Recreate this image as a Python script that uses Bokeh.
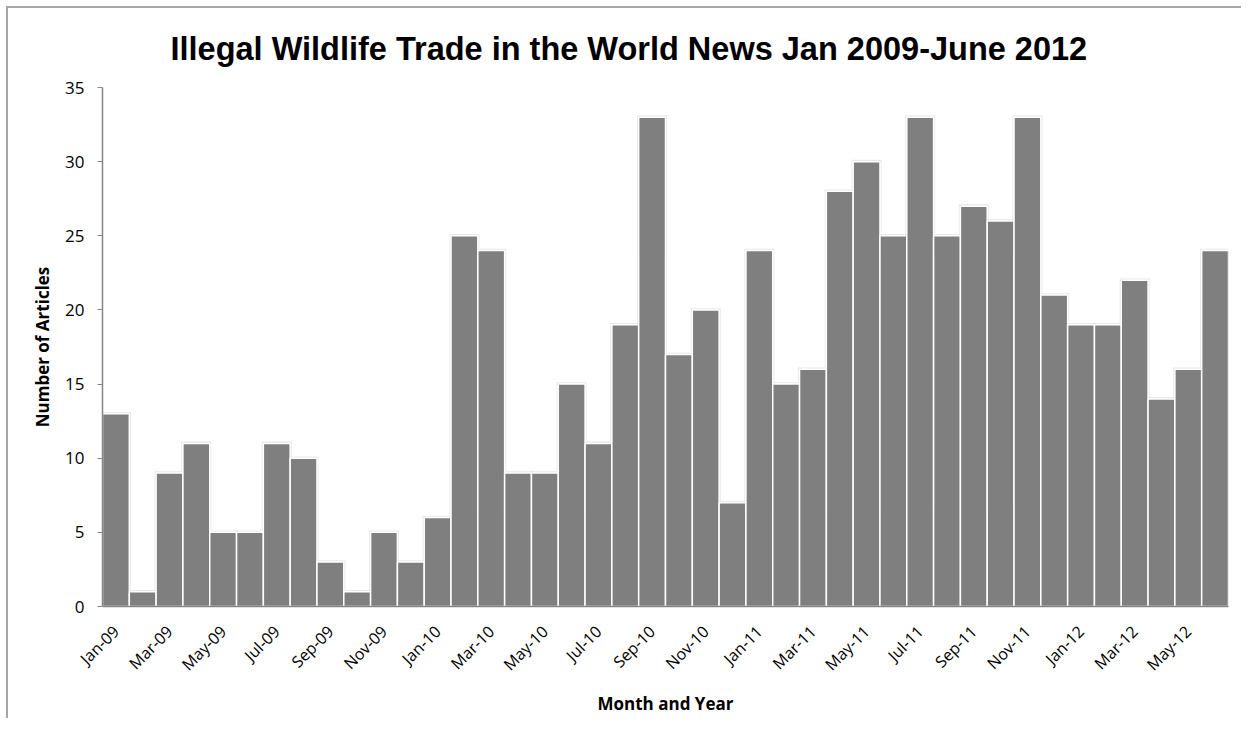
from math import pi
from bokeh.plotting import figure
from bokeh.models import ColumnDataSource, Range1d, FixedTicker, Title
from bokeh.embed import file_html
from bokeh.resources import INLINE

months = ["Jan-09", "Feb-09", "Mar-09", "Apr-09", "May-09", "Jun-09", "Jul-09", "Aug-09",
          "Sep-09", "Oct-09", "Nov-09", "Dec-09", "Jan-10", "Feb-10", "Mar-10", "Apr-10",
          "May-10", "Jun-10", "Jul-10", "Aug-10", "Sep-10", "Oct-10", "Nov-10", "Dec-10",
          "Jan-11", "Feb-11", "Mar-11", "Apr-11", "May-11", "Jun-11", "Jul-11", "Aug-11",
          "Sep-11", "Oct-11", "Nov-11", "Dec-11", "Jan-12", "Feb-12", "Mar-12", "Apr-12",
          "May-12", "Jun-12"]
articles = [13, 1, 9, 11, 5, 5, 11, 10, 3, 1, 5, 3,
            6, 25, 24, 9, 9, 15, 11, 19, 33, 17, 20, 7,
            24, 15, 16, 28, 30, 25, 33, 25, 27, 26, 33, 21,
            19, 19, 22, 14, 16, 24]
y_ticks = [0, 5, 10, 15, 20, 25, 30, 35]

idx = list(range(len(months)))
src = ColumnDataSource(dict(x=idx, top=articles, month=months,
                            shadow=[v + 0.12 for v in articles]))

p = figure(width=1235, height=712, output_backend="svg", toolbar_location=None,
           x_range=Range1d(-0.5, len(months) - 0.5), y_range=Range1d(0, 35),
           min_border_left=94, min_border_right=15, min_border_top=79, min_border_bottom=114)
p.styles = {"margin-left": "8px", "margin-top": "8px",
            "box-shadow": "-2px -2px 0px 0px #a6a6a6"}

p.title = Title(text="Illegal Wildlife Trade in the World News Jan 2009-June 2012",
                text_font="Liberation Sans", text_font_size="32.5px", text_font_style="bold",
                align="left", text_color="#000000", standoff=41, offset=68)

p.vbar(x="x", top="shadow", width=1.12, source=src, fill_color="#d9d9d9",
       fill_alpha=0.6, line_color=None)
p.vbar(x="x", top="top", width=1.0, source=src, fill_color="#7f7f7f",
       line_color="#ffffff", line_width=1.5)

p.grid.visible = False
p.outline_line_color = None
p.background_fill_color = "#ffffff"
p.border_fill_color = "#ffffff"

xa = p.xaxis[0]
xa.ticker = FixedTicker(ticks=idx[::2])
xa.major_label_overrides = {i: months[i] for i in idx[::2]}
xa.major_label_orientation = pi / 4
xa.major_tick_line_color = None
xa.minor_tick_line_color = None
xa.axis_line_color = "#868686"
xa.axis_line_width = 1.5
xa.major_label_text_font = "Open Sans"
xa.major_label_text_font_size = "16px"
xa.major_label_text_color = "#000000"
xa.major_label_standoff = 16
xa.axis_label = "Month and Year"
xa.axis_label_text_font = "Open Sans"
xa.axis_label_text_font_size = "17px"
xa.axis_label_text_font_style = "bold"
xa.axis_label_text_color = "#000000"
xa.axis_label_standoff = 6

ya = p.yaxis[0]
ya.ticker = FixedTicker(ticks=y_ticks)
ya.major_tick_out = 5
ya.major_tick_in = 0
ya.major_tick_line_color = "#868686"
ya.minor_tick_line_color = None
ya.axis_line_color = "#868686"
ya.axis_line_width = 1.5
ya.major_label_text_font = "Open Sans"
ya.major_label_text_font_size = "17px"
ya.major_label_text_color = "#000000"
ya.major_label_standoff = 13
ya.axis_label = "Number of Articles"
ya.axis_label_text_font = "Open Sans"
ya.axis_label_text_font_size = "17px"
ya.axis_label_text_font_style = "bold"
ya.axis_label_text_color = "#000000"
ya.axis_label_standoff = 8

open("out.html", "w").write(file_html(p, INLINE))
